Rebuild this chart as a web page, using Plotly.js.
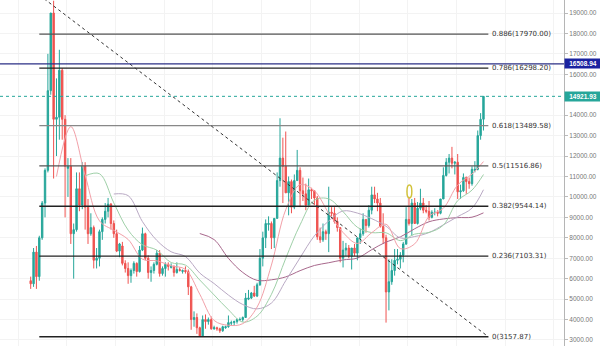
<!DOCTYPE html>
<html><head><meta charset="utf-8">
<script src="https://cdn.plot.ly/plotly-3.0.1.min.js"></script>
<style>html,body{margin:0;padding:0;background:#fff}#chart{width:600px;height:346px}</style>
</head><body><div id="chart"></div>
<script>
// Weekly BTC candles, index 0 = week of 2017-10-23
const open = [5900,5750,7300,6100,8000,9700,11300,15200,19000,13800,13900,16200,13800,11400,11500,8200,8400,10400,9600,11500,
9500,8200,8500,6900,7000,8300,8900,9300,9650,8700,8200,7350,7600,6750,6500,6150,6400,6750,6350,7400,
8200,7000,6300,6400,6700,7250,6250,6500,6700,6550,6600,6300,6450,6350,6400,6350,5600,4000,4100,3600,
3200,4000,3900,4000,3550,3600,3550,3450,3600,3650,3820,3850,3900,3980,4000,4100,5000,5050,5300,5150,
5700,7000,8000,8650,8700,8000,8950,10800,11900,11500,10200,10750,9500,10800,11300,10300,10150,9600,10350,10300,
9950,8050,7900,8300,8200,9250,9200,8800,8500,7000,7400,7500,7100,7500,7250,8000,8200,8900,8600,9350,
10100,9900,9700,8550,8000,5350,5850,6400,6900,6950,7150,7700,8900,8700,9700,8700,9450,9700,9350,9300,
9000,9230,9250,9200,9900,11050,11700,11900,11650,11700,10250,10300,10950,10750,10650,11300,11350,13000,13800];
const high = [6100,7500,7600,8100,9800,11400,17000,19000,19600,15800,17200,16300,14000,11900,11900,8700,11200,11200,11700,11700,
9900,9200,8600,7500,8400,9000,9700,9950,9700,8850,8400,7750,7800,6900,6800,6500,6850,6800,7600,8500,
8250,7150,6600,6800,7400,7400,6600,6800,6800,6750,6650,6800,6550,6450,6600,6450,5650,4400,4300,3650,
4200,4250,4100,4150,3700,3650,3600,3700,3700,4200,3950,3950,4050,4100,4150,5300,5450,5350,5650,5800,
7450,8300,8900,9050,8800,8950,11200,13850,12900,13200,11000,10850,11100,12300,11450,10950,10650,10900,10450,10300,
10050,8500,8700,8400,10500,9500,9500,9000,8500,7850,7750,7650,7500,7700,8000,8450,9200,8900,9600,10500,
10500,10200,9950,9200,8150,6950,6950,7450,7450,7300,7800,9500,10000,9900,9950,9750,10400,9950,9600,9800,
9350,9450,9350,9900,11450,11900,12100,12450,11750,12100,10600,11150,11000,10950,11500,11750,13250,14100,14921];
const low = [5500,5600,5500,5900,7900,9000,11200,15000,10900,12000,12800,12800,9000,10000,7700,6000,8300,9300,9400,8400,
7700,8100,6500,6500,6600,7900,8700,9000,8400,8000,7300,7050,6650,6300,5750,5800,6250,6100,6300,7350,
6900,6000,5850,6250,6650,6100,6150,6100,6400,6500,6100,6250,6350,6250,6250,5200,3500,3650,3300,3150,
3180,3550,3750,3500,3500,3450,3350,3400,3550,3600,3700,3700,3800,3950,3900,4100,4950,5000,5100,5100,
5650,6600,7500,8350,7450,7500,8950,10500,9700,10200,9100,9200,9400,10800,9500,9800,9350,9600,9900,9600,
7900,7750,7800,7900,7300,9050,8700,8300,6800,6550,7100,7000,6450,7100,6900,7700,8100,8250,8500,9150,
9700,9300,8500,7700,3850,4450,5700,6150,6700,6500,6800,7650,8600,8100,8800,8650,9350,9200,9200,8850,
8950,9100,9050,9150,9900,11000,11150,11400,11100,9900,9900,10250,10150,10400,10550,11200,11300,12800,13250];
const close = [5750,7300,6100,8000,9700,11300,15200,19000,13800,13900,16200,13800,11500,11500,8200,8400,10400,9600,11500,9500,
8200,8500,6900,7000,8300,8900,9300,9650,8700,8200,7350,7700,6750,6500,6150,6400,6750,6350,7400,8200,
7000,6300,6400,6700,7250,6250,6500,6700,6600,6600,6300,6450,6400,6400,6350,5600,4000,4100,3600,3200,
4000,3900,4000,3550,3600,3550,3450,3650,3650,3850,3850,3900,4000,4000,4100,5050,5050,5300,5150,5700,
7000,8000,8700,8700,8000,8950,10800,11900,11500,10200,10750,9500,10800,11300,10300,10150,9600,10350,10300,9950,
8050,7900,8300,8200,9250,9200,8800,8500,7000,7400,7500,7100,7500,7250,8000,8200,8900,8600,9350,10100,
9900,9700,8550,8000,5350,5850,6400,6900,6950,7150,7700,8900,8700,9700,8700,9450,9700,9350,9300,9000,
9250,9250,9200,9900,11050,11700,11900,11650,11700,10250,10300,10950,10750,10650,11350,11350,13000,13800,14921];
const week = close.map((_, i) => i);

// Moving averages (week index, value)
const ma10Week = [9,14,19,24,29,34,39,44,49,54,59,64,69,74,79,84,89,94,99,104,109,114,119,124,129,134,139,144,149,154,158];
const ma10 = [11000,13440,11060,8830,8365,7920,6955,6875,6630,6455,5240,3955,3720,3800,4610,6665,9375,10600,10300,9205,8260,7725,8250,8665,7475,7705,9050,9445,10585,11120,11730];
const ma20Week = [19,24,29,34,39,44,49,54,59,64,69,74,79,84,89,94,99,104,109,114,119,124,129,134,139,144,149,154,158];
const ma20 = [11030,11135,9710,8375,7660,7400,6790,6665,5935,5205,4480,3878,4165,5233,6993,8633,9838,9903,9280,8515,8255,8245,7863,8180,8263,8620,9818,10333,11096];
const ma30Week = [29,34,39,44,49,54,59,64,69,74,79,84,89,94,99,104,109,114,119,124,129,134,139,144,149,154,158];
const ma30 = [10143,10063,8793,7875,7317,7083,6275,5762,5197,4737,4523,4807,5902,7022,8095,8823,9312,9210,8937,8565,7995,8062,8258,8635,9037,9453,10352];
const ma60Week = [59,64,69,74,79,84,89,94,99,104,109,114,119,124,129,134,139,144,149,154,158];
const ma60 = [8209,7913,6995,6306,5920,5945,6088,6392,6646,6780,6918,7008,7419,7793,8045,8443,8785,8923,8987,9009,9220];

// Price-axis tick values shown (15000 is hidden behind the last-price tag)
const priceTicks = [3000,4000,5000,6000,7000,8000,9000,10000,11000,12000,13000,14000,16000,17000,18000,19000];

// Fibonacci retracement
const fibRatios = [1, 0.886, 0.786, 0.618, 0.5, 0.382, 0.236, 0];
const fibLow = 3157.87, fibHigh = 19875.85;
const fibValues = [19875.85, 17970.00, 16298.20, 13489.58, 11516.86, 9544.14, 7103.31, 3157.87];
const fibColors = ['#555','#555','#222','#888','#555','#222','#222','#222'];
const fibStart = 3.0, fibEnd = 159.7;

const blueLevel = 16508.94;
const lastPrice = 14921.93;

const shapes = [];
fibValues.forEach((v, i) => {
  shapes.push({type:'line', xref:'x', yref:'y', x0:fibStart, x1:fibEnd, y0:v, y1:v,
    line:{color:fibColors[i], width:1.3}});
});
shapes.push({type:'line', xref:'x', yref:'y', x0:fibStart, x1:fibEnd, y0:fibHigh, y1:fibLow,
  line:{color:'#333', width:1, dash:'3px,3px'}});
shapes.push({type:'line', xref:'paper', yref:'y', x0:0, x1:1, y0:blueLevel, y1:blueLevel,
  line:{color:'#2b2f86', width:1.2}});
shapes.push({type:'line', xref:'paper', yref:'y', x0:0, x1:1, y0:lastPrice, y1:lastPrice,
  line:{color:'#26a69a', width:1, dash:'dot'}});
shapes.push({type:'circle', xref:'x', yref:'y', x0:131.3, x1:133.0, y0:9950, y1:10580,
  line:{color:'#d2c23a', width:1.5}});

const annotations = fibValues.map((v, i) => ({
  xref:'x', yref:'y', x:fibEnd, y:v, xanchor:'left', yanchor:'middle', xshift:2,
  text: String(fibRatios[i]) + '(' + v.toFixed(2) + ')', showarrow:false,
  font:{family:'DejaVu Sans', size:7, color:'#333'}
}));
annotations.push({xref:'paper', yref:'y', x:1, y:blueLevel, xanchor:'left', yanchor:'middle',
  text:'<b>' + blueLevel.toFixed(2) + '</b>', showarrow:false, bgcolor:'#1a22a0', width:34, borderpad:1,
  font:{family:'Liberation Sans', size:6.5, color:'#fff'}});
annotations.push({xref:'paper', yref:'y', x:1, y:lastPrice, xanchor:'left', yanchor:'middle',
  text:'<b>' + lastPrice.toFixed(2) + '</b>', showarrow:false, bgcolor:'#26a69a', width:34, borderpad:1,
  font:{family:'Liberation Sans', size:6.5, color:'#fff'}});

const data = [
  {type:'candlestick', x:week, open:open, high:high, low:low, close:close,
   increasing:{line:{color:'#26a69a', width:1}, fillcolor:'#26a69a'},
   decreasing:{line:{color:'#ef5350', width:1}, fillcolor:'#ef5350'},
   whiskerwidth:0, hoverinfo:'skip'},
  {type:'scatter', mode:'lines', x:ma60Week, y:ma60, line:{color:'#a8688c', width:1, shape:'spline'}, hoverinfo:'skip'},
  {type:'scatter', mode:'lines', x:ma30Week, y:ma30, line:{color:'#b9a9c4', width:1, shape:'spline'}, hoverinfo:'skip'},
  {type:'scatter', mode:'lines', x:ma20Week, y:ma20, line:{color:'#9fd0a8', width:1, shape:'spline'}, hoverinfo:'skip'},
  {type:'scatter', mode:'lines', x:ma10Week, y:ma10, line:{color:'#f2a0a8', width:1, shape:'spline'}, hoverinfo:'skip'}
];

const layout = {
  width:600, height:346, margin:{l:0, r:36, t:0, b:0},
  paper_bgcolor:'#fff', plot_bgcolor:'#fff', showlegend:false,
  xaxis:{range:[-10.71, 186.1], showticklabels:false, showgrid:true, gridcolor:'#f3f3f3',
    tick0:-4.4, dtick:17, zeroline:false, rangeslider:{visible:false}, fixedrange:true, ticks:''},
  yaxis:{side:'right', range:[2706, 19636], tickmode:'array', tickvals:priceTicks, tickformat:'.2f',
    tickfont:{family:'Liberation Sans', size:6.5, color:'#777'}, showgrid:true, gridcolor:'#f3f3f3',
    showline:true, linecolor:'#b5b5b5', linewidth:1, ticks:'outside', ticklen:3, tickcolor:'#bbb',
    zeroline:false, fixedrange:true},
  shapes:shapes, annotations:annotations
};

Plotly.newPlot('chart', data, layout, {staticPlot:true, displayModeBar:false});
</script></body></html>
